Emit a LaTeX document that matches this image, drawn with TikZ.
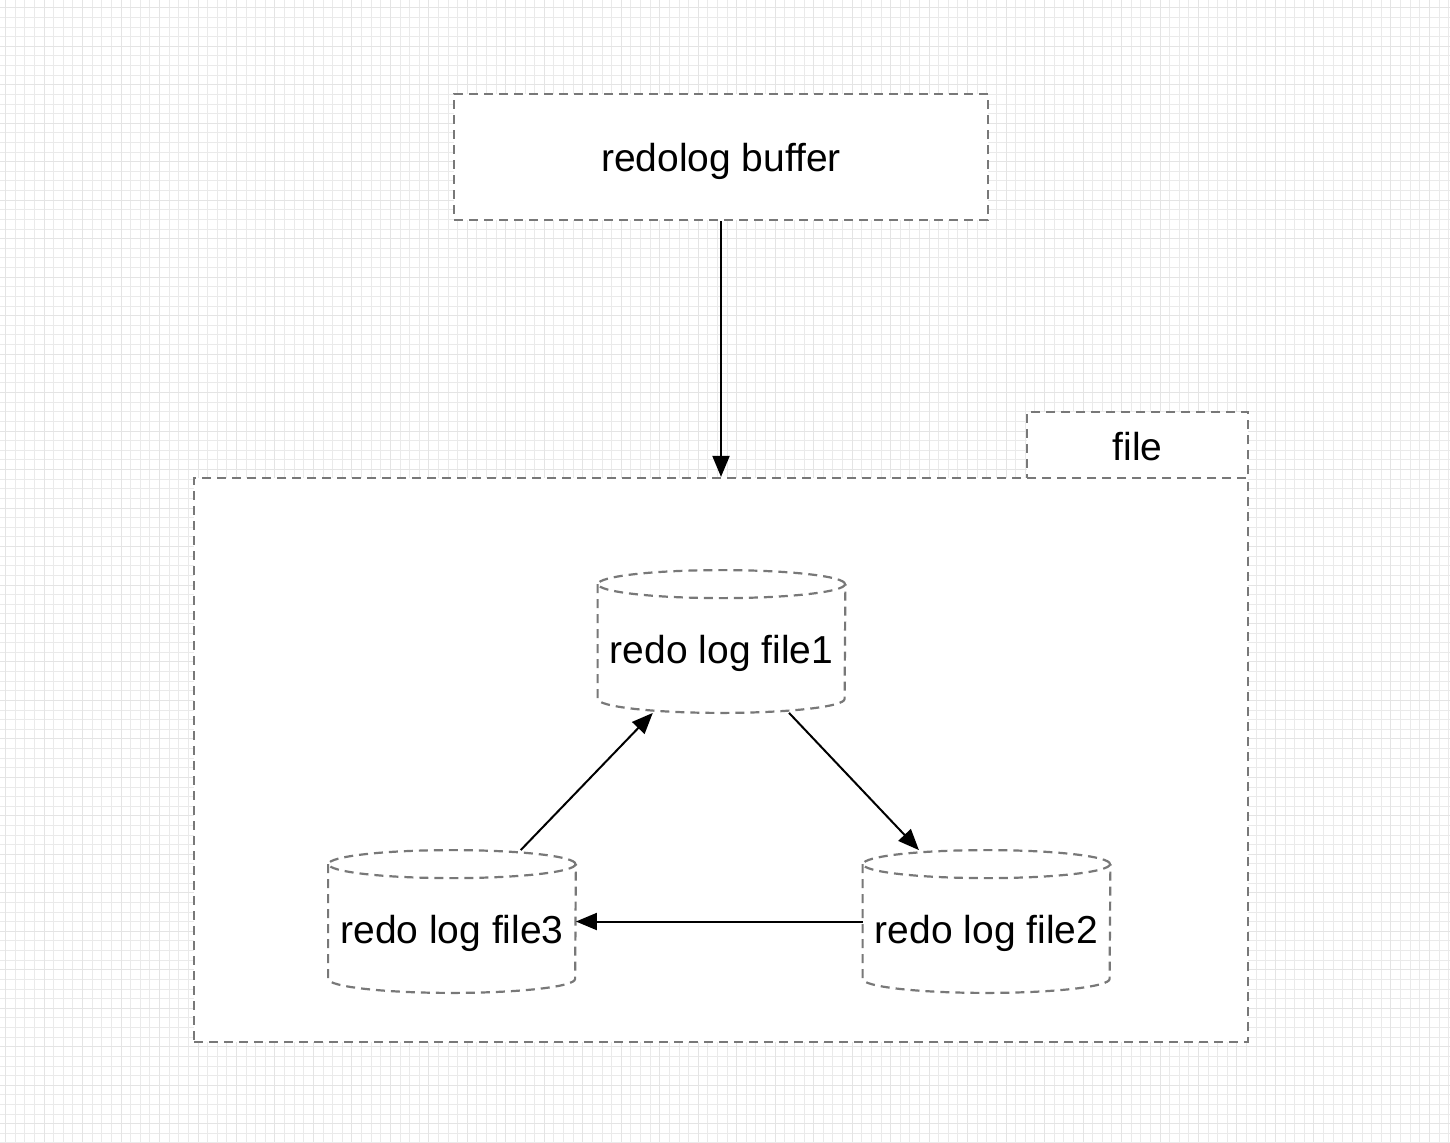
\documentclass[tikz,border=0pt]{standalone}
\usepackage{fontspec}
\setmainfont{Liberation Sans}
\usetikzlibrary{arrows.meta}

\definecolor{dashgray}{RGB}{120,120,120}
\definecolor{gridminor}{RGB}{234,234,234}
\definecolor{gridmajor}{RGB}{228,228,228}

\tikzset{
  dashbox/.style={draw=dashgray, line width=1.1pt, dash pattern=on 4.5pt off 3pt, fill=white, inner sep=0pt},
  cylbox/.style={inner sep=0pt, minimum width=123.5pt, minimum height=71pt},
  flow/.style={line width=1pt, -{Triangle[length=10.5pt,width=8.5pt]}},
}
% cylinder outline round a named node
\newcommand{\drawcyl}[1]{%
  \draw[dashbox, fill=none] ([yshift=-7pt]#1.north) ellipse [x radius=61.75pt, y radius=7pt];
  \draw[dashbox, fill=none] ([yshift=-7pt]#1.north west) -- ([yshift=7pt]#1.south west)
    arc [start angle=180, end angle=360, x radius=61.75pt, y radius=7pt] -- ([yshift=-7pt]#1.north east);
}

\begin{document}
\begin{tikzpicture}[x=0.5pt,y=-0.5pt,font=\fontsize{19.5}{23}\selectfont]
  \useasboundingbox (0,0) rectangle (1450,1142);
  % background grid
  \foreach \i in {0,...,150}
    \draw[gridminor, line width=0.5pt] ({5.6+9.62*\i},0) -- ({5.6+9.62*\i},1142);
  \foreach \j in {0,...,118}
    \draw[gridminor, line width=0.5pt] (0,{7.8+9.62*\j}) -- (1450,{7.8+9.62*\j});
  \foreach \i in {0,4,...,148}
    \draw[gridmajor, line width=0.5pt] ({5.6+9.62*\i},0) -- ({5.6+9.62*\i},1142);
  \foreach \j in {0,4,...,116}
    \draw[gridmajor, line width=0.5pt] (0,{7.8+9.62*\j}) -- (1450,{7.8+9.62*\j});

  \node[dashbox, minimum width=267pt, minimum height=63pt] (buffer) at (721,157) {};
  \node[yshift=-2pt] (buffertext) at (buffer) {redolog buffer};
  \node[dashbox, minimum width=110.5pt, minimum height=33pt] (tab) at (1137.5,445) {};
  \node[yshift=-1pt] (tabtext) at (tab) {file};
  \node[dashbox, minimum width=527pt, minimum height=282pt] (files) at (721,760) {};

  \node[cylbox, label={[yshift=-6pt]center:redo log file1}] (f1) at (721.5,641.5) {};
  \node[cylbox, label={[yshift=-6pt]center:redo log file2}] (f2) at (986.5,921.5) {};
  \node[cylbox, label={[yshift=-6pt]center:redo log file3}] (f3) at (452,921.5) {};
  \drawcyl{f1}
  \drawcyl{f2}
  \drawcyl{f3}

  \draw[flow] (buffer) -- (files);
  \draw[flow] (f1) -- (f2);
  \draw[flow] (f2) -- (f3);
  \draw[flow] (f3) -- (f1);
\end{tikzpicture}
\end{document}
